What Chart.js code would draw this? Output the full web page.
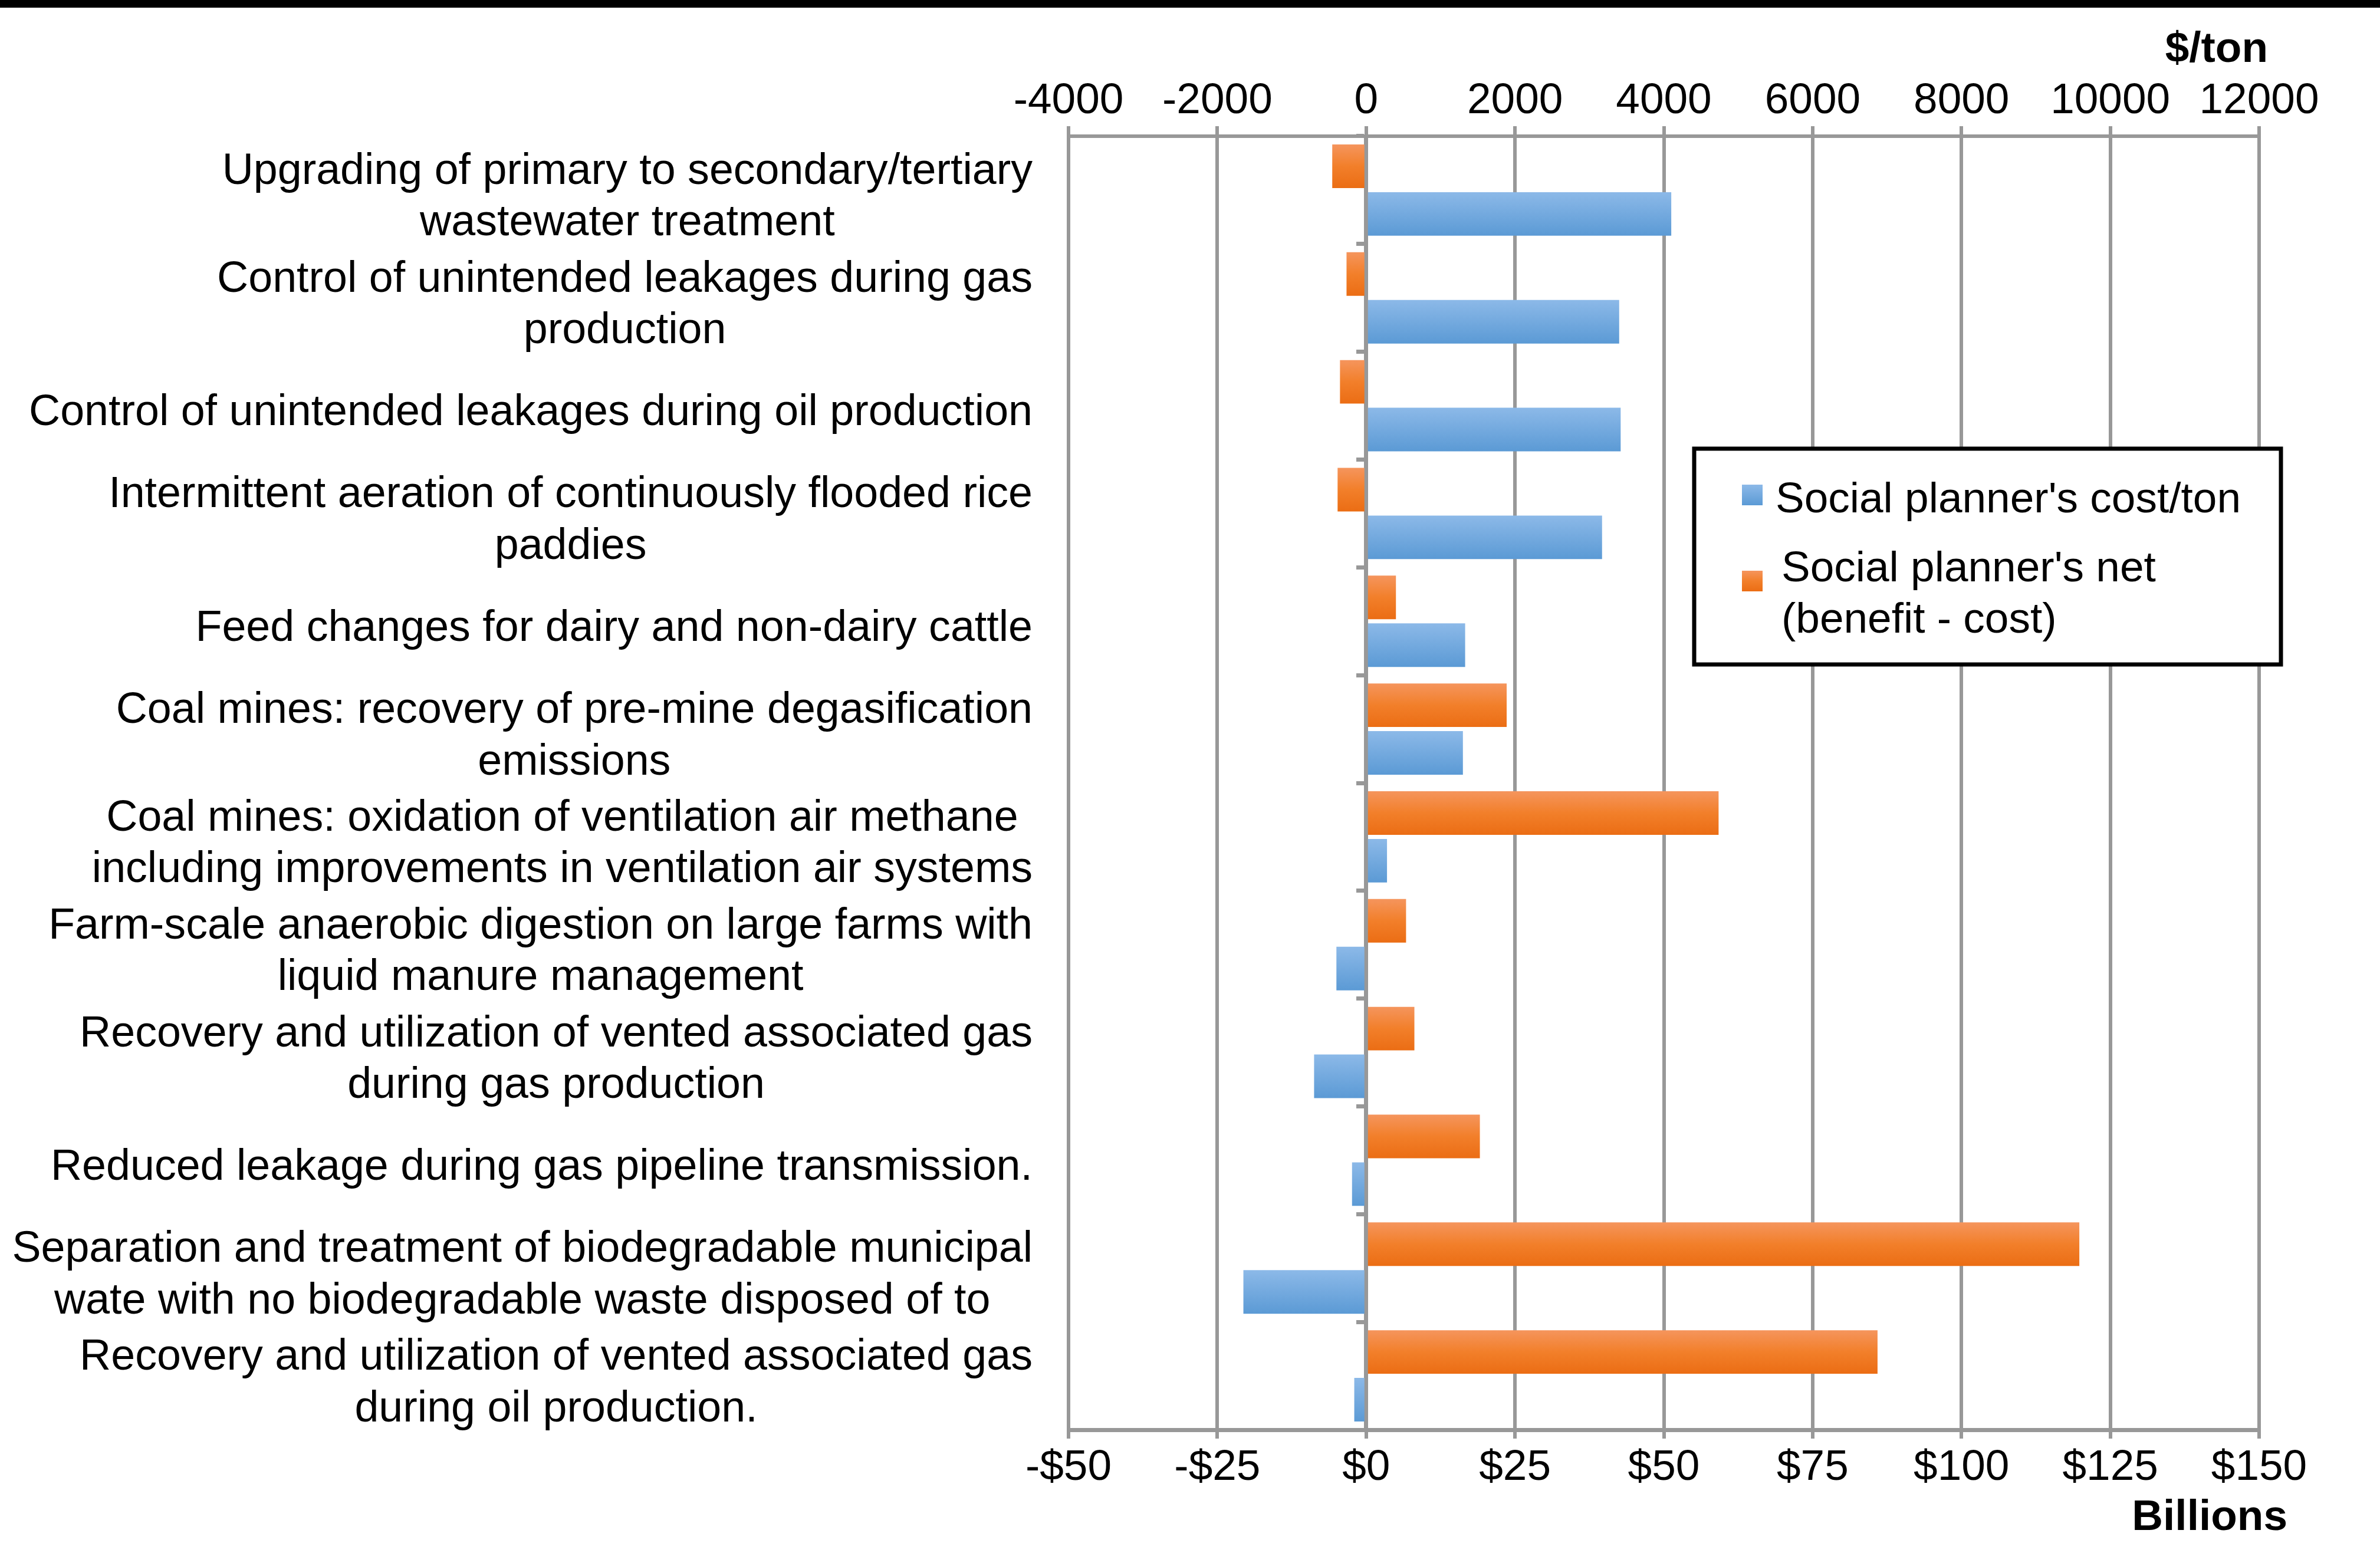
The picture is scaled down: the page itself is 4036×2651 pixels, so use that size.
<!DOCTYPE html>
<html>
<head>
<meta charset="utf-8">
<title>Methane abatement measures: cost per ton and net benefit</title>
<script src="https://cdn.jsdelivr.net/npm/chart.js@4.4.1/dist/chart.umd.min.js"></script>
<style>
  html, body { margin: 0; padding: 0; background: #ffffff; overflow: hidden; }
  canvas { display: block; }
</style>
</head>
<body>
<canvas id="chart" width="4036" height="2651"></canvas>
<script>
// ---- data -------------------------------------------------------------
const categories = [
  ["Upgrading of primary to secondary/tertiary", "wastewater treatment"],
  ["Control of unintended leakages during gas", "production"],
  ["Control of unintended leakages during oil production"],
  ["Intermittent aeration of continuously flooded rice", "paddies"],
  ["Feed changes for dairy and non-dairy cattle"],
  ["Coal mines: recovery of pre-mine degasification", "emissions"],
  ["Coal mines: oxidation of ventilation air methane", "including improvements in ventilation air systems"],
  ["Farm-scale anaerobic digestion on large farms with", "liquid manure management"],
  ["Recovery and utilization of vented associated gas", "during gas production"],
  ["Reduced leakage during gas pipeline transmission."],
  ["Separation and treatment of biodegradable municipal", "wate with no biodegradable waste disposed of to"],
  ["Recovery and utilization of vented associated gas", "during oil production."]
];

// Social planner's cost per ton ($/ton, top axis)
const costPerTon = [4100, 3400, 3420, 3170, 1330, 1300, 280, -400, -700, -190, -1650, -160];

// Social planner's net benefit minus cost ($ billions, bottom axis)
const netBillions = [-5.7, -3.3, -4.4, -4.8, 5.0, 23.6, 59.2, 6.7, 8.1, 19.1, 119.8, 85.9];

const costSeriesName = ["Social planner's cost/ton"];
const netSeriesName = ["Social planner's net", "(benefit - cost)"];

const costTickValues = [-4000, -2000, 0, 2000, 4000, 6000, 8000, 10000, 12000];
const netTickValues = [-50, -25, 0, 25, 50, 75, 100, 125, 150];

const costAxisTitle = "$/ton";
const netAxisTitle = "Billions";

// ---- styling ----------------------------------------------------------
const FONT = '"Liberation Sans", Arial, Helvetica, sans-serif';
const FONT_SIZE = 73;
const LABEL_SIZE = 73.6;
const GRID = '#989898';

const shades = {
  net:  [[0, '#f5955d'], [0.5, '#f27f2a'], [1, '#eb6d14']],
  cost: [[0, '#8cb9e8'], [1, '#5b9ad5']]
};

Chart.defaults.font.family = FONT;
Chart.defaults.font.size = FONT_SIZE;
Chart.defaults.color = '#000000';

function fillShade(ctx, stops, top, height) {
  const g = ctx.createLinearGradient(0, top, 0, top + height);
  stops.forEach(([o, c]) => g.addColorStop(o, c));
  return g;
}

// vertical shading of every bar
const barShading = {
  id: 'barShading',
  beforeDatasetDraw(chart, args) {
    const stops = shades[chart.data.datasets[args.index].shade];
    args.meta.data.forEach(bar => {
      const top = bar.y - bar.height / 2;
      bar.options = Object.assign({}, bar.options, {
        backgroundColor: fillShade(chart.ctx, stops, top, bar.height)
      });
    });
  }
};

// multi-line category names, right-aligned as a block, lines centred
const categoryLabels = {
  id: 'categoryLabels',
  afterDraw(chart) {
    const { ctx, chartArea, scales } = chart;
    const y = scales.y;
    const right = chartArea.left - 61;
    const lineH = 87.5;
    ctx.save();
    ctx.font = `${LABEL_SIZE}px ${FONT}`;
    ctx.fillStyle = '#000000';
    ctx.textAlign = 'center';
    ctx.textBaseline = 'middle';
    categories.forEach((lines, i) => {
      const w = Math.max(...lines.map(l => ctx.measureText(l).width));
      const cx = right - w / 2;
      const cy = y.getPixelForValue(i) + 13;
      lines.forEach((line, k) => {
        ctx.fillText(line, cx, cy + (k - (lines.length - 1) / 2) * lineH);
      });
    });
    ctx.restore();
  }
};

// boxed legend inside the plot, axis unit titles, top rule
const decorations = {
  id: 'decorations',
  afterDraw(chart) {
    const { ctx, chartArea: a } = chart;
    ctx.save();

    // top rule
    ctx.fillStyle = '#000000';
    ctx.fillRect(0, 0, chart.width, 13);

    // axis unit titles
    ctx.font = `bold ${FONT_SIZE}px ${FONT}`;
    ctx.textAlign = 'right';
    ctx.textBaseline = 'alphabetic';
    ctx.fillText(costAxisTitle, a.right + 15, 105);
    ctx.fillText(netAxisTitle, a.right + 48, 2595);

    // legend box
    const bx = a.right - 958, by = a.top + 530;
    const bw = 995, bh = 366;
    ctx.fillStyle = '#ffffff';
    ctx.fillRect(bx, by, bw, bh);
    ctx.lineWidth = 7;
    ctx.strokeStyle = '#000000';
    ctx.strokeRect(bx, by, bw, bh);

    ctx.font = `${FONT_SIZE}px ${FONT}`;
    ctx.textAlign = 'left';
    ctx.fillStyle = '#000000';

    // cost/ton entry
    const sq = 35;
    const sx = bx + 81;
    let sy = by + 61;
    ctx.fillStyle = fillShade(ctx, shades.cost, sy, sq);
    ctx.fillRect(sx, sy, sq, sq);
    ctx.fillStyle = '#000000';
    costSeriesName.forEach((t, k) => ctx.fillText(t, bx + 138, by + 108 + k * 87));

    // net entry
    sy = by + 207;
    ctx.fillStyle = fillShade(ctx, shades.net, sy, sq);
    ctx.fillRect(sx, sy, sq, sq);
    ctx.fillStyle = '#000000';
    netSeriesName.forEach((t, k) => ctx.fillText(t, bx + 148, by + 225 + k * 87));

    ctx.restore();
  }
};

const netLabel = v => (v < 0 ? '-$' + Math.abs(v) : '$' + v);

new Chart(document.getElementById('chart'), {
  type: 'bar',
  data: {
    labels: categories,
    datasets: [
      {
        label: netSeriesName.join(' '),
        shade: 'net',
        data: netBillions,
        xAxisID: 'x',
        backgroundColor: '#f07c25',
        borderWidth: 0
      },
      {
        label: costSeriesName.join(' '),
        shade: 'cost',
        data: costPerTon,
        xAxisID: 'x2',
        backgroundColor: '#6fa7dd',
        borderWidth: 0
      }
    ]
  },
  options: {
    indexAxis: 'y',
    responsive: false,
    animation: false,
    devicePixelRatio: 1,
    layout: { padding: { left: 1812, right: 205, top: 130.4, bottom: 111.4 } },
    datasets: { bar: { categoryPercentage: 0.885, barPercentage: 0.914 } },
    plugins: {
      legend: { display: false },
      tooltip: { enabled: false }
    },
    scales: {
      x: {
        type: 'linear',
        position: 'bottom',
        min: netTickValues[0],
        max: netTickValues[netTickValues.length - 1],
        ticks: {
          stepSize: netTickValues[1] - netTickValues[0],
          callback: netLabel,
          padding: 6,
          maxRotation: 0,
          minRotation: 0,
          autoSkip: false,
          color: '#000000'
        },
        grid: { color: GRID, lineWidth: 6, drawTicks: true, tickLength: 15 },
        border: { display: true, color: GRID, width: 7 }
      },
      x2: {
        type: 'linear',
        position: 'top',
        min: costTickValues[0],
        max: costTickValues[costTickValues.length - 1],
        ticks: {
          stepSize: costTickValues[1] - costTickValues[0],
          callback: v => String(v),
          padding: -2,
          maxRotation: 0,
          minRotation: 0,
          autoSkip: false,
          color: '#000000'
        },
        grid: { color: GRID, lineWidth: 6, drawOnChartArea: false, drawTicks: true, tickLength: 17 },
        border: { display: true, color: GRID, width: 6 }
      },
      y: {
        type: 'category',
        position: { x: 0 },
        offset: true,
        z: 1,
        ticks: { display: false },
        grid: { color: GRID, lineWidth: 7, drawOnChartArea: false, drawTicks: true, tickLength: 13, offset: true },
        border: { display: true, color: GRID, width: 7 }
      }
    }
  },
  plugins: [barShading, categoryLabels, decorations]
});
</script>
</body>
</html>
